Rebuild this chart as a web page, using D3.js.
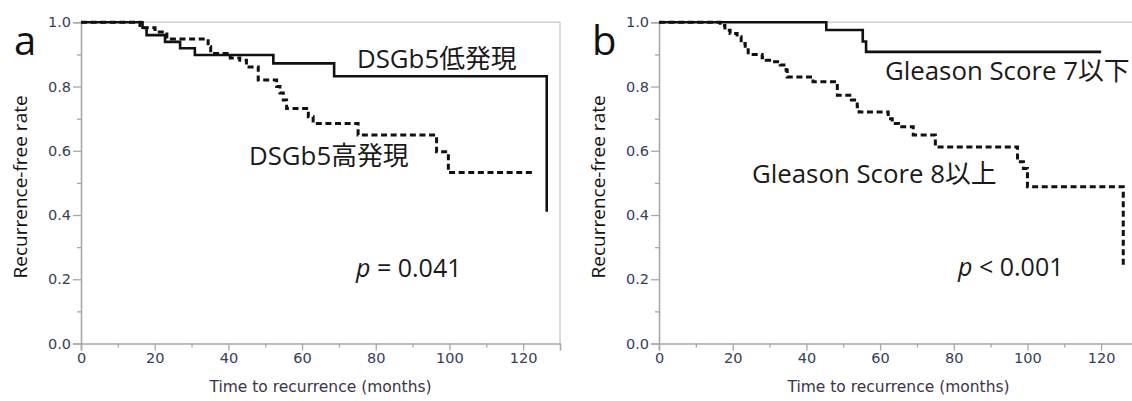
<!DOCTYPE html>
<html><head><meta charset="utf-8">
<script src="https://cdn.jsdelivr.net/npm/d3@7/dist/d3.min.js"></script>
<style>
html,body{margin:0;padding:0;background:#fff;}
svg{display:block;}
</style></head>
<body>
<svg id="chart" width="1132" height="401"></svg>
<script>
// ---------- data ----------
const xTicks = [0, 20, 40, 60, 80, 100, 120];
const yTicks = [0.0, 0.2, 0.4, 0.6, 0.8, 1.0];

// Panel a: DSGb5 low expression (solid)
const aLowTime = [0, 16.7, 17.8, 22.8, 26.9, 30.9, 52.2, 68.7, 126.4];
const aLowSurv = [1.0, 0.983, 0.96, 0.939, 0.919, 0.898, 0.872, 0.832, 0.41];
// Panel a: DSGb5 high expression (dashed)
const aHighTime = [0, 16.0, 20.1, 23.3, 34.5, 35.2, 40.5, 43.1, 44.9, 48.1, 53.1, 54.0, 54.9, 55.8, 61.7, 63.0, 75.2, 96.5, 99.7, 122.9];
const aHighSurv = [1.0, 0.983, 0.97, 0.948, 0.924, 0.903, 0.889, 0.882, 0.861, 0.82, 0.80, 0.78, 0.758, 0.732, 0.706, 0.685, 0.649, 0.597, 0.532, 0.532];
// Panel b: Gleason score <=7 (solid)
const bLowTime = [0, 45.4, 55.3, 56.2, 120];
const bLowSurv = [1.0, 0.976, 0.94, 0.908, 0.908];
// Panel b: Gleason score >=8 (dashed)
const bHighTime = [0, 16.6, 17.9, 19.3, 21.2, 22.3, 23.4, 24.2, 28.0, 29.1, 30.7, 32.9, 34.5, 34.8, 41.8, 48.4, 52.2, 53.8, 54.3, 62.2, 63.3, 65.0, 69.0, 75.0, 97.3, 98.9, 100.0, 126.0];
const bHighSurv = [1.0, 0.99, 0.975, 0.965, 0.955, 0.934, 0.92, 0.90, 0.89, 0.882, 0.877, 0.867, 0.851, 0.830, 0.815, 0.773, 0.758, 0.737, 0.721, 0.70, 0.685, 0.675, 0.649, 0.612, 0.566, 0.545, 0.488, 0.239];

const panels = [
  {id:"a", x0:81, solidT:aLowTime, solidS:aLowSurv, dashT:aHighTime, dashS:aHighSurv,
   labels:[{t:"DSGb5低発現", x:357, y:68}, {t:"DSGb5高発現", x:249, y:165}],
   p:{pre:"p", post:" = 0.041", x:356, y:277}},
  {id:"b", x0:659, solidT:bLowTime, solidS:bLowSurv, dashT:bHighTime, dashS:bHighSurv,
   labels:[{t:"Gleason Score 7以下", x:885, y:80}, {t:"Gleason Score 8以上", x:752, y:183}],
   p:{pre:"p", post:" < 0.001", x:958, y:276}}
];

const svg = d3.select("#chart");
const W = 479, yTop = 22.3, yBot = 343.5;
const annFont = "'Open Sans','Noto Sans CJK JP',sans-serif";
const tickColor = "#34405a";

panels.forEach(P => {
  const x = d3.scaleLinear().domain([0,130]).range([P.x0, P.x0 + W]);
  const y = d3.scaleLinear().domain([0,1]).range([yBot, yTop]);
  const g = svg.append("g");

  // frame (top and right)
  g.append("line").attr("x1", P.x0).attr("x2", P.x0+W).attr("y1", yTop).attr("y2", yTop)
    .attr("stroke", "#cfcfcf").attr("stroke-width", 1.5);
  g.append("line").attr("x1", P.x0+W).attr("x2", P.x0+W).attr("y1", yTop).attr("y2", yBot)
    .attr("stroke", "#cfcfcf").attr("stroke-width", 1.5);

  // minor ticks
  const yMinor = d3.range(0.1, 1.0, 0.2);
  g.append("g").attr("transform", `translate(${P.x0},0)`)
    .call(d3.axisLeft(y).tickValues(yMinor).tickSize(4).tickFormat(""))
    .call(s => { s.select(".domain").remove(); s.selectAll("line").attr("stroke","#a8a8a8").attr("stroke-width",1.3); });
  const xMinor = [10,30,50,70,90,110];
  g.append("g").attr("transform", `translate(0,${yBot})`)
    .call(d3.axisBottom(x).tickValues(xMinor).tickSize(4).tickFormat(""))
    .call(s => { s.select(".domain").remove(); s.selectAll("line").attr("stroke","#a8a8a8").attr("stroke-width",1.3); });

  // major axes
  const ya = g.append("g").attr("transform", `translate(${P.x0},0)`)
    .call(d3.axisLeft(y).tickValues(yTicks).tickSize(8).tickPadding(2).tickFormat(d3.format(".1f")));
  const xa = g.append("g").attr("transform", `translate(0,${yBot})`)
    .call(d3.axisBottom(x).tickValues(xTicks).tickSize(7).tickPadding(2).tickFormat(d3.format("d")));
  [ya, xa].forEach(a => {
    a.select(".domain").attr("stroke", "#a8a8a8").attr("stroke-width", 1.6);
    a.selectAll(".tick line").attr("stroke", "#a8a8a8").attr("stroke-width", 1.3);
    a.selectAll(".tick text").attr("fill", tickColor)
      .style("font-family", "'DejaVu Sans',Verdana,sans-serif").style("font-size", "14.5px");
  });

  // axis titles
  g.append("text").attr("x", (P.x0 + P.x0 + W)/2).attr("y", 392)
    .attr("text-anchor", "middle").attr("fill", "#3a3448")
    .style("font-family", "'DejaVu Sans',Verdana,sans-serif").style("font-size", "15.5px")
    .text("Time to recurrence (months)");
  g.append("text").attr("transform", `translate(${P.x0 - 54},${(yTop+yBot)/2 + 4}) rotate(-90)`)
    .attr("text-anchor", "middle").attr("fill", "#111")
    .style("font-family", annFont).style("font-size", "19px")
    .text("Recurrence-free rate");

  // panel letter
  g.append("text").attr("x", P.x0 - 67).attr("y", 55).attr("fill", "#111")
    .style("font-family", annFont).style("font-size", "40px").text(P.id);

  // curves
  const line = d3.line().x(d => x(d[0])).y(d => y(d[1])).curve(d3.curveStepAfter);
  const solid = P.solidT.map((t,i) => [t, P.solidS[i]]);
  const dash = P.dashT.map((t,i) => [t, P.dashS[i]]);
  g.append("path").attr("d", line(dash)).attr("fill","none").attr("stroke","#111")
    .attr("stroke-width", 3).attr("stroke-dasharray", "6,3.6");
  g.append("path").attr("d", line(solid)).attr("fill","none").attr("stroke","#111")
    .attr("stroke-width", 2.6);

  // annotations
  P.labels.forEach(L => {
    g.append("text").attr("x", L.x).attr("y", L.y).attr("fill", "#1a1a1a")
      .style("font-family", annFont).style("font-size", "25.8px").text(L.t);
  });
  const pt = g.append("text").attr("x", P.p.x).attr("y", P.p.y).attr("fill", "#1a1a1a")
    .style("font-family", annFont).style("font-size", "25px");
  pt.append("tspan").style("font-style", "italic").text(P.p.pre);
  pt.append("tspan").text(P.p.post);
});
</script>
</body></html>
